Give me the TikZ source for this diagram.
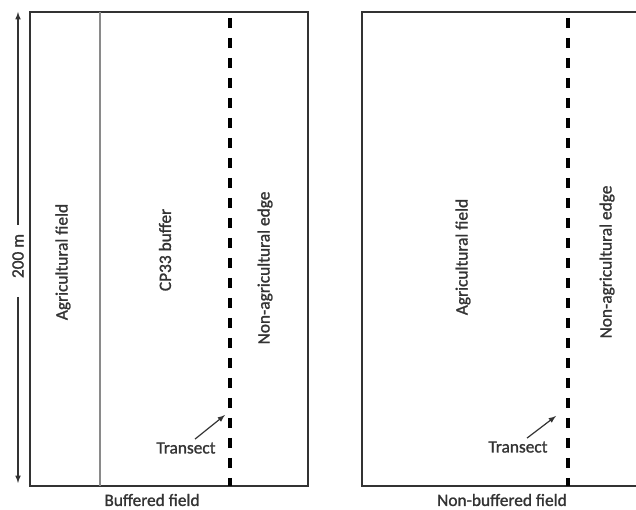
\documentclass[tikz,border=0pt]{standalone}
\usepackage{fontspec}
\setmainfont[FakeBold=1.2]{Carlito}
\definecolor{edgegray}{HTML}{333333}
\definecolor{fieldgray}{HTML}{8A8A8A}
\tikzset{
  plot/.style={draw=edgegray,line width=1.6pt},
  divide/.style={draw=fieldgray,line width=1.4pt},
  transect/.style={draw=black,line width=2.3pt,dash pattern=on 7.5pt off 7.5pt},
  zone/.style={rotate=90,font=\fontsize{13}{15}\selectfont,text=edgegray,inner sep=0pt},
  caption/.style={font=\fontsize{13}{15}\selectfont,text=edgegray,inner sep=0pt},
  pointer/.style={draw=edgegray,line width=0.9pt,-latex}
}
\begin{document}
\begin{tikzpicture}[x=0.75pt,y=0.75pt]
\useasboundingbox (0,0) rectangle (636,510);
\draw[plot] (30,498) -- (30,24) -- (308,24) -- (308,498) -- cycle;
\draw[divide] (100,498) -- (100,24);
\draw[transect] (230,492) -- (230,24);
\draw[plot] (650,498) -- (362,498) -- (362,24) -- (650,24);
\draw[transect] (568,492) -- (568,24);

\node[zone] (dist) at (18,254) {200 m};
\coordinate (disttop) at (18,498);
\coordinate (distbot) at (18,27);
\draw[pointer] (18,285) -- (disttop);
\draw[pointer] (18,213) -- (distbot);

\node[zone] (agriA) at (63,248) {Agricultural field};
\node[zone] (buffer) at (165,260) {CP33 buffer};
\node[zone] (edgeA) at (265,242) {Non-agricultural edge};
\node[zone] (agriB) at (463,253) {Agricultural field};
\node[zone] (edgeB) at (607,248) {Non-agricultural edge};

\node[caption] (transA) at (186,62) {Transect};
\node[caption] (transB) at (518,63) {Transect};
\coordinate (lineA) at (225,95);
\coordinate (lineB) at (556,94);
\draw[pointer] (transA.north) ++(9,3) -- (lineA);
\draw[pointer] (transB.north) ++(9,3) -- (lineB);

\node[caption] (fieldA) at (152,10) {Buffered field};
\node[caption] (fieldB) at (502,10) {Non-buffered field};
\end{tikzpicture}
\end{document}
